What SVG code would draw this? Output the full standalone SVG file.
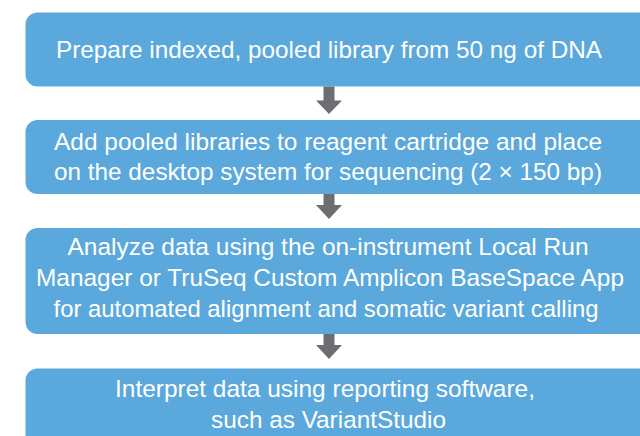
<svg xmlns="http://www.w3.org/2000/svg" width="640" height="436" viewBox="0 0 640 436">
<style>
.box{fill:#5ba8dc;}
.t{font-family:"Liberation Sans",Arial,sans-serif;font-size:24.5px;fill:#ffffff;text-anchor:middle;}
.arr{fill:#6d6e71;}
</style>
<rect width="640" height="436" fill="#ffffff"/>
<g id="step1">
<rect class="box" x="25.5" y="12.5" width="630" height="74" rx="12"/>
<text class="t" x="329" y="58" textLength="546" lengthAdjust="spacingAndGlyphs">Prepare indexed, pooled library from 50 ng of DNA</text>
</g>
<g id="step2">
<rect class="box" x="25.5" y="120" width="630" height="74" rx="12"/>
<text class="t" x="328" y="150" textLength="548" lengthAdjust="spacingAndGlyphs">Add pooled libraries to reagent cartridge and place</text>
<text class="t" x="328" y="180" textLength="548" lengthAdjust="spacingAndGlyphs">on the desktop system for sequencing (2 × 150 bp)</text>
</g>
<g id="step3">
<rect class="box" x="25.5" y="228" width="630" height="106" rx="12"/>
<text class="t" x="328" y="255" textLength="521" lengthAdjust="spacingAndGlyphs">Analyze data using the on-instrument Local Run</text>
<text class="t" x="330" y="286" textLength="588" lengthAdjust="spacingAndGlyphs">Manager or TruSeq Custom Amplicon BaseSpace App</text>
<text class="t" x="326" y="317" textLength="545" lengthAdjust="spacingAndGlyphs">for automated alignment and somatic variant calling</text>
</g>
<g id="step4">
<rect class="box" x="25.5" y="368.5" width="630" height="90" rx="12"/>
<text class="t" x="325" y="397" textLength="420" lengthAdjust="spacingAndGlyphs">Interpret data using reporting software,</text>
<text class="t" x="328.5" y="428" textLength="235" lengthAdjust="spacingAndGlyphs">such as VariantStudio</text>
</g>
<g id="connectors">
<path class="arr" d="M323.5 86.5 H334.5 V100.5 H342 L329 114 L316 100.5 H323.5 Z"/>
<path class="arr" d="M323.5 194 H334.5 V205 H342 L329 219 L316 205 H323.5 Z"/>
<path class="arr" d="M323.5 334 H334.5 V345 H342 L329 359 L316 345 H323.5 Z"/>
</g>
</svg>
